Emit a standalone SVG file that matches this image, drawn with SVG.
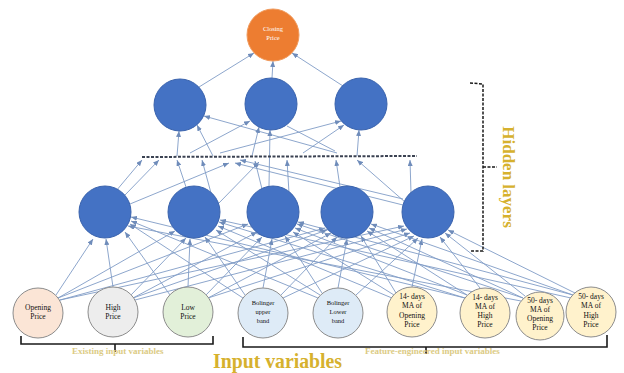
<svg xmlns="http://www.w3.org/2000/svg" width="624" height="373" viewBox="0 0 624 373">
<defs>
<marker id="ah" markerUnits="userSpaceOnUse" markerWidth="6" markerHeight="5" refX="6" refY="2.5" orient="auto">
<path d="M0,0 L6,2.5 L0,5 z" fill="#6f8cba"/>
</marker>
<style>
.c line{stroke:#809cc6;stroke-width:0.9;fill:none;marker-end:url(#ah)}
.c line.n{marker-end:none}
.hid{fill:#4472c4;stroke:#3a63ad;stroke-width:1}
.out{fill:#ed7d31;stroke:#f09a5c;stroke-width:1}
.inp{stroke:#8c8c8c;stroke-width:1}
.lbl{font-family:"Liberation Serif","Times New Roman",serif;font-size:7.5px;fill:#111;text-anchor:middle}
.lbs{font-family:"Liberation Serif","Times New Roman",serif;font-size:6.5px;fill:#111;text-anchor:middle}
.gold{font-family:"Liberation Serif","Times New Roman",serif;font-weight:bold;fill:#d6b12e}
.pale{font-family:"Liberation Serif","Times New Roman",serif;font-weight:bold;font-size:9px;fill:#dccb84}
.brk{fill:none;stroke:#1a1a1a;stroke-width:1.6}
.dbrk{fill:none;stroke:#1a1a1a;stroke-width:1.5;stroke-dasharray:3 1.5}
</style>
</defs>
<rect width="624" height="373" fill="#ffffff"/>

<g id="connectors" class="c">
<!-- hidden2 to output -->
<line x1="199" y1="87" x2="254" y2="53"/>
<line x1="272" y1="78" x2="273" y2="61"/>
<line x1="343" y1="86" x2="292" y2="53"/>
<!-- dashed level to hidden2 -->
<line x1="177" y1="156" x2="179" y2="131"/>
<line x1="213" y1="156" x2="197" y2="125"/>
<line x1="337" y1="153" x2="204" y2="116"/>
<line x1="190" y1="153" x2="250" y2="121"/>
<line x1="252" y1="156" x2="259" y2="127"/>
<line x1="220" y1="153" x2="341" y2="121"/>
<line x1="303" y1="153" x2="344" y2="125"/>
<line x1="357" y1="156" x2="359" y2="130"/>
<line class="n" x1="287" y1="126" x2="335" y2="151"/>
<line x1="269" y1="186" x2="270" y2="130"/>
<!-- hidden1 to dashed level -->
<line x1="116" y1="191" x2="142" y2="160"/>
<line x1="125" y1="195" x2="159" y2="160"/>
<line x1="130" y1="204" x2="229" y2="163"/>
<line x1="186" y1="187" x2="177" y2="160"/>
<line x1="211" y1="193" x2="202" y2="160"/>
<line x1="219" y1="203" x2="259" y2="162"/>
<line x1="262" y1="189" x2="255" y2="161"/>
<line x1="289" y1="193" x2="287" y2="160"/>
<line x1="340" y1="187" x2="336" y2="160"/>
<line x1="405" y1="202" x2="357" y2="160"/>
<line x1="411" y1="193" x2="410" y2="160"/>
<line x1="403" y1="199" x2="240" y2="160"/>
<line x1="403" y1="205" x2="235" y2="163"/>
<!-- inputs to hidden1 -->
<line x1="56" y1="295" x2="93" y2="239"/>
<line x1="58" y1="298" x2="175" y2="231"/>
<line x1="58" y1="298" x2="248" y2="224"/>
<line x1="60" y1="300" x2="325" y2="228"/>
<line x1="60" y1="300" x2="404" y2="226"/>
<line x1="113" y1="287" x2="106" y2="239"/>
<line x1="131" y1="295" x2="186" y2="238"/>
<line x1="133" y1="298" x2="257" y2="232"/>
<line x1="133" y1="298" x2="327" y2="230"/>
<line x1="135" y1="300" x2="407" y2="229"/>
<line x1="170" y1="295" x2="125" y2="232"/>
<line x1="188" y1="287" x2="190" y2="239"/>
<line x1="206" y1="295" x2="262" y2="237"/>
<line x1="208" y1="298" x2="331" y2="233"/>
<line x1="208" y1="298" x2="410" y2="233"/>
<line x1="243" y1="298" x2="130" y2="224"/>
<line x1="245" y1="295" x2="205" y2="237"/>
<line x1="263" y1="288" x2="272" y2="239"/>
<line x1="281" y1="295" x2="337" y2="237"/>
<line x1="283" y1="298" x2="414" y2="236"/>
<line x1="318" y1="298" x2="131" y2="221"/>
<line x1="320" y1="295" x2="216" y2="230"/>
<line x1="322" y1="293" x2="285" y2="236"/>
<line x1="338" y1="288" x2="347" y2="239"/>
<line x1="356" y1="295" x2="418" y2="238"/>
<line x1="392" y1="298" x2="218" y2="226"/>
<line x1="394" y1="295" x2="293" y2="232"/>
<line x1="396" y1="293" x2="361" y2="236"/>
<line x1="412" y1="287" x2="422" y2="239"/>
<line x1="465" y1="298" x2="131" y2="217"/>
<line x1="465" y1="298" x2="219" y2="222"/>
<line x1="467" y1="295" x2="295" y2="228"/>
<line x1="467" y1="295" x2="367" y2="231"/>
<line x1="480" y1="288" x2="440" y2="237"/>
<line x1="521" y1="301" x2="128" y2="226"/>
<line x1="523" y1="298" x2="297" y2="224"/>
<line x1="523" y1="298" x2="369" y2="228"/>
<line x1="525" y1="296" x2="445" y2="233"/>
<line x1="571" y1="298" x2="220" y2="220"/>
<line x1="573" y1="295" x2="298" y2="222"/>
<line x1="573" y1="295" x2="371" y2="224"/>
<line x1="575" y1="293" x2="448" y2="230"/>
</g>

<line x1="142" y1="157" x2="417" y2="156" stroke="#3b4252" stroke-width="2" stroke-dasharray="3 1.5"/>

<g id="out"><circle class="out" cx="273" cy="35" r="26"/>
<text class="lbs" style="fill:#fff" x="273" y="31">Closing</text>
<text class="lbs" style="fill:#fff" x="273" y="40">Price</text></g>

<g id="h2a"><circle class="hid" cx="180" cy="105" r="26"/></g>
<g id="h2b"><circle class="hid" cx="271" cy="104" r="26"/></g>
<g id="h2c"><circle class="hid" cx="361" cy="104" r="26"/></g>

<g id="h1a"><circle class="hid" cx="105" cy="212" r="26"/></g>
<g id="h1b"><circle class="hid" cx="194" cy="212" r="26"/></g>
<g id="h1c"><circle class="hid" cx="273" cy="212" r="26"/></g>
<g id="h1d"><circle class="hid" cx="347" cy="212" r="26"/></g>
<g id="h1e"><circle class="hid" cx="428" cy="212" r="26"/></g>

<g id="in1"><circle class="inp" cx="38" cy="313" r="25" fill="#fbe5d6"/>
<text class="lbl" x="38" y="310">Opening</text><text class="lbl" x="38" y="319">Price</text></g>
<g id="in2"><circle class="inp" cx="113" cy="312" r="25" fill="#ededed"/>
<text class="lbl" x="113" y="310">High</text><text class="lbl" x="113" y="319">Price</text></g>
<g id="in3"><circle class="inp" cx="188" cy="312" r="25" fill="#e2f0d9"/>
<text class="lbl" x="188" y="310">Low</text><text class="lbl" x="188" y="319">Price</text></g>
<g id="in4"><circle class="inp" cx="263" cy="313" r="25" fill="#deebf7"/>
<text class="lbs" x="263" y="305">Bolinger</text><text class="lbs" x="263" y="314">upper</text><text class="lbs" x="263" y="323">band</text></g>
<g id="in5"><circle class="inp" cx="338" cy="313" r="25" fill="#deebf7"/>
<text class="lbs" x="338" y="305">Bolinger</text><text class="lbs" x="338" y="314">Lower</text><text class="lbs" x="338" y="323">band</text></g>
<g id="in6"><circle class="inp" cx="412" cy="312" r="25" fill="#fff2cc"/>
<text class="lbl" x="412" y="299">14- days</text><text class="lbl" x="412" y="308">MA of</text><text class="lbl" x="412" y="318">Opening</text><text class="lbl" x="412" y="327">Price</text></g>
<g id="in7"><circle class="inp" cx="485" cy="313" r="25" fill="#fff2cc"/>
<text class="lbl" x="485" y="300">14- days</text><text class="lbl" x="485" y="309">MA of</text><text class="lbl" x="485" y="318">High</text><text class="lbl" x="485" y="327">Price</text></g>
<g id="in8"><circle class="inp" cx="540" cy="316" r="24" fill="#fff2cc"/>
<text class="lbl" x="540" y="303">50- days</text><text class="lbl" x="540" y="312">MA of</text><text class="lbl" x="540" y="321">Opening</text><text class="lbl" x="540" y="330">Price</text></g>
<g id="in9"><circle class="inp" cx="591" cy="312" r="25" fill="#fff2cc"/>
<text class="lbl" x="591" y="299">50- days</text><text class="lbl" x="591" y="308">MA of</text><text class="lbl" x="591" y="318">High</text><text class="lbl" x="591" y="327">Price</text></g>

<g id="brackets">
<path class="brk" d="M21,336 L21,344 L213,344 L213,336 M115,344 L115,352"/>
<path class="brk" d="M243,337 L243,347 L607,347 L607,335 M426,347 L426,354"/>
<path class="dbrk" d="M470,83 L483,84 L483,251 L470,251 M483,167 L497,167"/>
</g>

<text class="pale" x="72" y="354">Existing input variables</text>
<text class="pale" x="365" y="354">Feature-engineered input variables</text>
<text class="gold" x="213" y="368" font-size="22" textLength="129" lengthAdjust="spacingAndGlyphs">Input variables</text>
<text class="gold" font-size="17" transform="translate(503,177) rotate(90)" text-anchor="middle">Hidden layers</text>
</svg>
